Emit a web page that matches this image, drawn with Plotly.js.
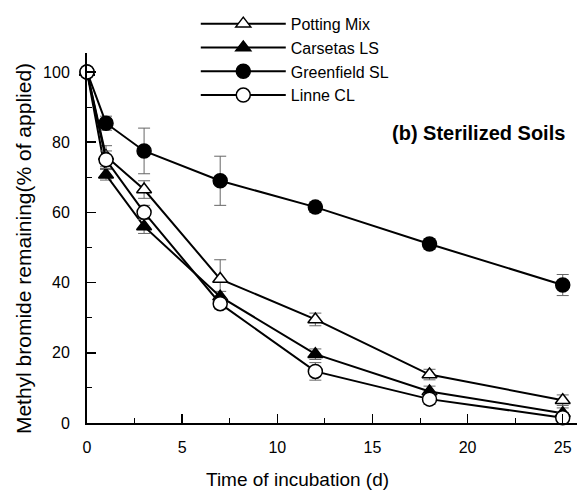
<!DOCTYPE html>
<html>
<head>
<meta charset="utf-8">
<script src="https://cdn.plot.ly/plotly-3.0.1.min.js"></script>
<style>html,body{margin:0;padding:0;background:#fff;}#chart{width:577px;height:495px;}</style>
</head>
<body>
<div id="chart"></div>
<script>
const days = [0, 1, 3, 7, 12, 18, 25];
const seriesNames = ["Potting Mix", "Carsetas LS", "Greenfield SL", "Linne CL"];
const pottingMix = [100, 76, 66.5, 41, 29.5, 13.8, 6.5];
const pottingMixErr = [0, 3, 2.5, 5.5, 1.8, 1.5, 1.5];
const carsetasLS = [100, 70.7, 56, 36, 19.6, 9, 2.8];
const carsetasLSErr = [0, 1.5, 2, 1.5, 1.5, 1.5, 1.5];
const greenfieldSL = [100, 85.4, 77.5, 69, 61.5, 51, 39.3];
const greenfieldSLErr = [0, 2, 6.5, 7, 1.5, 1.5, 3];
const linneCL = [100, 75, 60, 34, 14.7, 6.8, 1.5];
const linneCLErr = [0, 2.5, 2, 1.5, 2.5, 1.5, 1.5];

const xTicks = [0, 5, 10, 15, 20, 25];
const yTicks = [0, 20, 40, 60, 80, 100];
const xTitle = "Time of incubation (d)";
const yTitle = "Methyl bromide remaining(% of applied)";
const panelTitle = "(b) Sterilized Soils";

const font = "Liberation Sans, Arial, sans-serif";
function mk(name, y, err, symbol, fill) {
  return {
    x: days, y: y, name: name, type: "scatter", mode: "lines+markers",
    cliponaxis: false,
    line: {color: "#000", width: 2},
    marker: {symbol: symbol, size: symbol.indexOf("triangle") === 0 ? 13 : 14, color: fill, line: {color: "#000", width: 1.5}},
    error_y: {type: "data", array: err, visible: true, color: "#666", thickness: 1, width: 6},
    legendgroup: name
  };
}
const traces = [
  mk(seriesNames[0], pottingMix, pottingMixErr, "triangle-up", "#fff"),
  mk(seriesNames[1], carsetasLS, carsetasLSErr, "triangle-up", "#000"),
  mk(seriesNames[2], greenfieldSL, greenfieldSLErr, "circle", "#000"),
  mk(seriesNames[3], linneCL, linneCLErr, "circle", "#fff")
];

const layout = {
  width: 577, height: 495,
  margin: {l: 87, r: 0, t: 53, b: 72, pad: 0},
  paper_bgcolor: "#fff", plot_bgcolor: "#fff",
  font: {family: font, color: "#000", size: 16},
  showlegend: true,
  legend: {x: 0.222, xanchor: "left", y: 1.125, yanchor: "top", bgcolor: "rgba(0,0,0,0)",
    font: {family: font, size: 16}, itemwidth: 85, tracegroupgap: 6, traceorder: "normal"},
  xaxis: {
    range: [0, 25.75], showgrid: false, zeroline: false, showline: true, linecolor: "#000", linewidth: 2,
    ticks: "inside", ticklen: 9, tickwidth: 1.5, tickcolor: "#000",
    tickvals: xTicks, ticktext: xTicks.map(String), ticklabelstandoff: 9,
    tickfont: {family: font, size: 16},
    minor: {ticks: "inside", ticklen: 5, tickwidth: 1, tickcolor: "#000", dtick: 2.5, showgrid: false}
  },
  yaxis: {
    range: [0, 105.4], showgrid: false, zeroline: false, showline: true, linecolor: "#000", linewidth: 2,
    ticks: "inside", ticklen: 9, tickwidth: 1.5, tickcolor: "#000",
    tickvals: yTicks, ticktext: yTicks.map(String), ticklabelstandoff: 12,
    tickfont: {family: font, size: 16},
    minor: {ticks: "inside", ticklen: 5, tickwidth: 1, tickcolor: "#000", dtick: 10, showgrid: false}
  },
  annotations: [
    {text: "<b>" + panelTitle + "</b>", xref: "paper", yref: "paper", x: 1, y: 0.785,
     xanchor: "right", yanchor: "middle", showarrow: false, font: {family: font, size: 20}, xshift: -10},
    {text: xTitle, xref: "paper", yref: "paper", x: 0.43, y: 0, yshift: -56,
     xanchor: "center", yanchor: "middle", showarrow: false, font: {family: font, size: 19}},
    {text: yTitle, xref: "paper", yref: "paper", x: 0, xshift: -64, y: 0.47,
     xanchor: "center", yanchor: "middle", textangle: -90, showarrow: false, font: {family: font, size: 21}}
  ]
};
Plotly.newPlot("chart", traces, layout, {displayModeBar: false, staticPlot: true});
</script>
</body>
</html>
